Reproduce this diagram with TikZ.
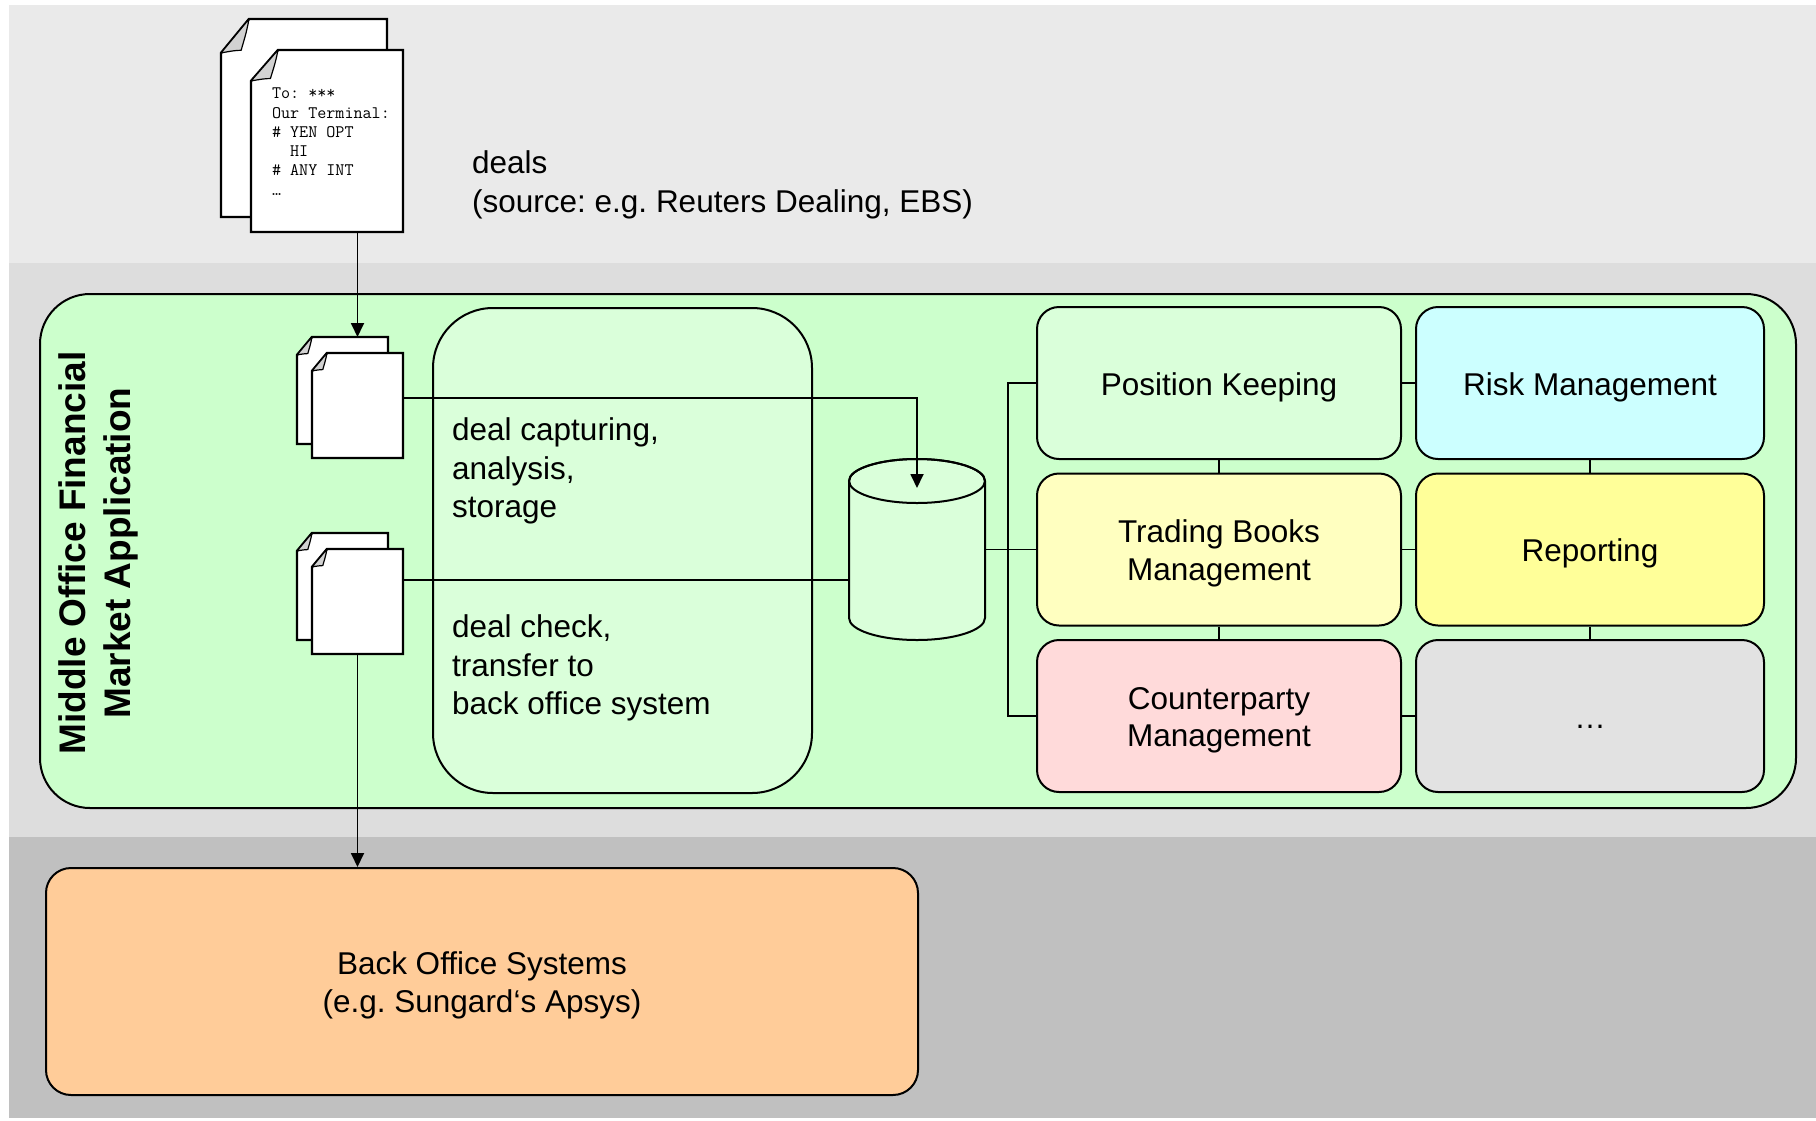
\documentclass[tikz,border=0pt]{standalone}
\usepackage{fontspec}
\setmainfont{Liberation Sans}
\frenchspacing
\usetikzlibrary{arrows.meta}
\definecolor{grisclair}{RGB}{234,234,234}
\definecolor{grismoyen}{RGB}{221,221,221}
\definecolor{grisfonce}{RGB}{192,192,192}
\definecolor{vertappli}{RGB}{204,255,204}
\definecolor{vertpale}{RGB}{218,255,218}
\definecolor{cyanpale}{RGB}{204,255,255}
\definecolor{jaunepale}{RGB}{255,255,192}
\definecolor{jaune}{RGB}{255,255,153}
\definecolor{rosepale}{RGB}{255,218,218}
\definecolor{grisboite}{RGB}{226,226,226}
\definecolor{orangepale}{RGB}{255,204,153}
\newcommand{\lgauche}{364}
\newcommand{\ldroite}{348}
\newcommand{\hboite}{152}
\newcommand{\cale}{\rule[-6.6pt]{0pt}{37.2pt}}
\tikzstyle{noeud}=[minimum size=0, inner sep=0, outer sep=0]
\tikzstyle{bord}=[line width=2pt]
\tikzstyle{lien}=[line width=1.8pt]
\tikzstyle{fleche}=[lien,-{Triangle[length=14pt,width=13pt]}]
\tikzstyle{boite}=[draw,bord,rounded corners=22pt,minimum height=\hboite,align=center,font=\fontsize{31.5}{37.5}\selectfont,execute at begin node=\cale]
\tikzstyle{page}=[fill=white,draw,line width=2.4pt,line join=miter]
\tikzstyle{coin}=[fill=gray!35,draw,line width=1.2pt,line join=round]
\tikzstyle{texte}=[align=left,inner sep=0,font=\fontsize{31.5}{38.5}\selectfont]
\newcommand{\feuille}[6]{
  \node[noeud,minimum width=#3,minimum height=#4,anchor=north west] (#1) at (#2) {};
  \draw[page] (#1.north west) ++(0,#6) -- ++(#5,-#6) -- (#1.north east) -- (#1.south east) -- (#1.south west) -- cycle;
  \draw[coin] (#1.north west) ++(0,#6) -- ++(#5,-#6) .. controls +(-0.1*#5,0.45*#6) and +(0.1*#5,-0.3*#6) .. ++(-0.28*#5,0.92*#6)
     .. controls +(-0.2*#5,0) and +(0.3*#5,-0.05*#6) .. ([yshift=-#6pt]#1.north west);
}
\newcommand{\pile}[2]{
  \begin{scope}[shift={(#2)}]
  \feuille{d#1}{0,0}{91}{107}{15}{18}
  \feuille{p#1}{15,16}{91}{105}{15}{18}
  \end{scope}
}

\begin{document}
\begin{tikzpicture}[x=1pt,y=-1pt]
\useasboundingbox (0,0) rectangle (1816,1120);

%bandes
\fill[grisclair] (9,5) rectangle (1816,263);
\fill[grismoyen] (9,263) rectangle (1816,837);
\fill[grisfonce] (9,837) rectangle (1816,1118);

%application
\node[draw,bord,fill=vertappli,rounded corners=50pt,minimum width=1756,minimum height=514,anchor=north west] (appli) at (39,293) {};
\node[noeud,rotate=90,align=center,font=\bfseries\fontsize{37}{45}\selectfont] (titre) at (98,553) {Middle Office Financial\\Market Application};

\node[draw,bord,fill=vertpale,rounded corners=60pt,minimum width=379,minimum height=485,anchor=north west] (traitement) at (432,307) {};
\node[texte,anchor=west] (saisie) at (452,471) {deal capturing,\\analysis,\\storage};
\node[texte,anchor=west] (controle) at (452,668) {deal check,\\transfer to\\back office system};

%base
\node[noeud,minimum width=136,minimum height=182] (base) at (917,549.5) {};
\filldraw[fill=vertpale,bord] (849,481) -- (849,618) arc[start angle=180,end angle=0,x radius=68,y radius=22]
   -- (985,481) arc[start angle=0,end angle=-180,x radius=68,y radius=22] -- cycle;
\draw[bord] (917,481) ellipse[x radius=68,y radius=22];

%modules
\node[boite,fill=vertpale,minimum width=\lgauche] (PK) at (1219,383) {Position Keeping};
\node[boite,fill=jaunepale,minimum width=\lgauche] (TB) at (1219,549.5) {\cale Trading Books\\Management};
\node[boite,fill=rosepale,minimum width=\lgauche] (CP) at (1219,716) {\cale Counterparty\\Management};
\node[boite,fill=cyanpale,minimum width=\ldroite] (RM) at (1590,383) {Risk Management};
\node[boite,fill=jaune,minimum width=\ldroite] (RP) at (1590,549.5) {Reporting};
\node[boite,fill=grisboite,minimum width=\ldroite] (ETC) at (1590,716) {…};

\node[boite,fill=orangepale,rounded corners=25pt,minimum width=872,minimum height=227,anchor=north west] (BO) at (45,867) {\cale Back Office Systems\\(e.g. Sungard‘s Apsys)};

%documents
\feuille{dmsg}{221,19}{166}{198}{28}{34}
\feuille{msg}{251,50}{152}{182}{27}{31}
\node[noeud,anchor=north west,align=left,font=\ttfamily\fontsize{17.6}{19.3}\selectfont] (entete) at (272,88)
  {To: ***\\Our Terminal:\\\# YEN OPT\\\hphantom{\# }HI\\\# ANY INT\\…};
\node[texte,anchor=west] (source) at (472,185) {deals\\(source: e.g. Reuters Dealing, EBS)};

\pile{1}{297,337}
\pile{2}{297,533}

%liens
\coordinate (entree) at (917,488);
\coordinate (bus) at (1008,549.5);
\coordinate (s1) at ([yshift=7.5pt]p1.east);
\coordinate (s2) at ([yshift=21.5pt]p2.east);
\draw[fleche] (p1.north |- msg.south) -- (p1.north |- d1.north);
\draw[fleche] (s1) -| (entree);
\draw[lien] (s2) -- (s2 -| base.west);
\draw[fleche] (p2.south) -- (p2.south |- BO.north);
\draw[lien] (base.east) -- (TB.west);
\draw[lien] (PK.west) -| (bus) |- (CP.west);
\foreach \a/\b in {PK/TB,TB/CP,RM/RP,RP/ETC}
\draw[lien] (\a.south) -- (\b.north);
\foreach \a/\b in {PK/RM,TB/RP,CP/ETC}
\draw[lien] (\a.east) -- (\b.west);
\end{tikzpicture}
\end{document}
